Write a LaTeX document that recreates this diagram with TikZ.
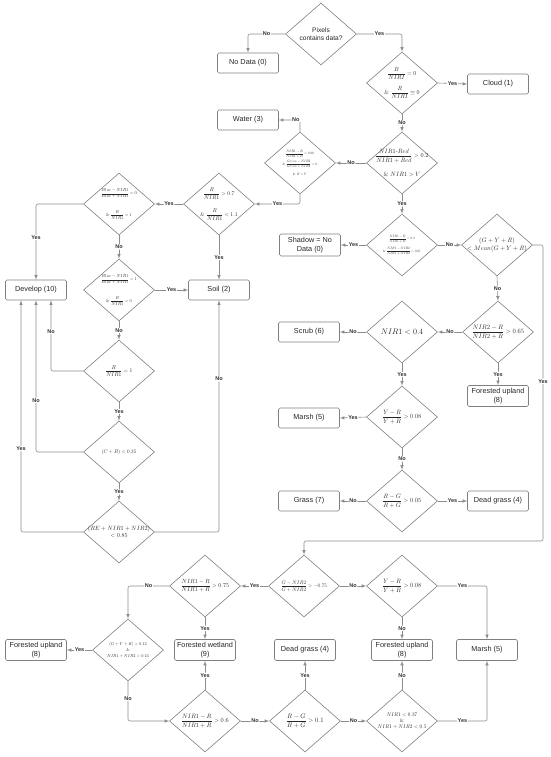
\documentclass[tikz,border=0pt]{standalone}
\usepackage{amsmath}
\usepackage[no-math]{fontspec}
\setsansfont{Liberation Sans}
\usetikzlibrary{shapes.geometric}

\begin{document}
\begin{tikzpicture}
	[
		x=1pt, y=-1pt,
		Arrow/.style={draw=black!45, line width=0.6pt, -latex, rounded corners=2pt},
		Lab/.style={fill=white, inner sep=0.7pt, font=\sffamily\bfseries\fontsize{5.5}{6}\selectfont, text=black!80},
		Txt/.style={align=center, inner sep=0pt, text=black!85, font=\normalsize, transform shape}
	]
	\tikzstyle{Box} = [rectangle, rounded corners=1.5pt, minimum width=61pt, minimum height=20pt, inner sep=1pt, align=center, draw=black!50, line width=0.6pt, text=black!85, font=\sffamily\fontsize{7.3}{9}\selectfont]
	\tikzstyle{Dia} = [diamond, minimum width=71pt, minimum height=62pt, inner sep=0pt, draw=black!50, line width=0.6pt]
	\useasboundingbox (0,0) rectangle (550,757);
	% end classes
	\node [Box] (nodata) at (248,63) {No Data (0)};
	\node [Box] (cloud) at (498,84) {Cloud (1)};
	\node [Box] (water) at (248,120) {Water (3)};
	\node [Box] (develop) at (36,290) {Develop (10)};
	\node [Box] (soil) at (219,290) {Soil (2)};
	\node [Box, minimum height=22pt] (shadow) at (310,245) {Shadow = No\\Data (0)};
	\node [Box] (scrub) at (309,332) {Scrub (6)};
	\node [Box, minimum height=21pt] (fup1) at (498,396) {Forested upland\\(8)};
	\node [Box] (marsh1) at (309,418) {Marsh (5)};
	\node [Box] (grass) at (309,501) {Grass (7)};
	\node [Box] (dead1) at (498,501) {Dead grass (4)};
	\node [Box, minimum height=21pt] (fup2) at (36,650) {Forested upland\\(8)};
	\node [Box, minimum height=21pt] (wet) at (205,650) {Forested wetland\\(9)};
	\node [Box, minimum height=21pt] (dead2) at (305,650) {Dead grass (4)};
	\node [Box, minimum height=21pt] (fup3) at (402,650) {Forested upland\\(8)};
	\node [Box, minimum height=21pt] (marsh2) at (487,650) {Marsh (5)};
	% decisions
	\node [Dia, label={[Txt, font=\sffamily\fontsize{6.6}{8}\selectfont]center:{Pixels\\contains data?}}] (d0) at (321,34) {};
	\node [Dia, label={[Txt, scale=0.6]center:{$\dfrac{B}{NIRI}=0$\\[11pt]\&~$\dfrac{R}{NIRI}\cong 0$}}] (d1) at (402,83) {};
	\node [Dia, label={[Txt, scale=0.35]center:{$\dfrac{NIR1-B}{NIR1+B}<0.60$\\[7pt]\&~$\dfrac{Green-NIR2}{Green+NIR2}>0$\\[14pt]\&~$R>Y$}}] (dw) at (300,163) {};
	\node [Dia, label={[Txt, scale=0.62]center:{$\dfrac{NIR1\text{-}Red}{NIR1+Red}>0.2$\\[14pt]\&~$NIR1>V$}}] (dn) at (402,163) {};
	\node [Dia, label={[Txt, scale=0.56]center:{$\dfrac{R}{NIR1}>0.7$\\[16pt]\&~$\dfrac{R}{NIR1}<1.1$}}] (dr) at (219,204) {};
	\node [Dia, label={[Txt, scale=0.44]center:{$\dfrac{Blue-NIR1}{Blue+NIR1}=0$\\[26pt]\&~$\dfrac{R}{NIR1}=1$}}] (db1) at (119,204) {};
	\node [Dia, label={[Txt, scale=0.44]center:{$\dfrac{Blue-NIR1}{Blue+NIR1}=1$\\[26pt]\&~$\dfrac{R}{NIR1}=0$}}] (db2) at (119,290) {};
	\node [Dia, label={[Txt, scale=0.56]center:{$\dfrac{R}{NIR1}=1$}}] (dr1) at (119,371) {};
	\node [Dia, label={[Txt, scale=0.52]center:{$(C+B)<0.35$}}] (dcb) at (119,452) {};
	\node [Dia, label={[Txt, scale=0.61]center:{$(RE+NIR1+NIR2)$\\$<0.85$}}] (dre) at (119,532) {};
	\node [Dia, label={[Txt, scale=0.34]center:{$\dfrac{NIR1-B}{NIR1+B}<0.2$\\[14pt]\&~$\dfrac{NIR1-NIR2}{NIR1+NIR2}>0.01$}}] (ds) at (402,245) {};
	\node [Dia, label={[Txt, scale=0.64]center:{$(G+Y+R)$\\$<Mean(G+Y+R)$}}] (dm) at (497,245) {};
	\node [Dia, label={[Txt, scale=0.65]center:{$\dfrac{NIR2-R}{NIR2+R}>0.65$}}] (dn2) at (498,332) {};
	\node [Dia, label={[Txt, scale=0.8]center:{$NIR1<0.4$}}] (dn1) at (402,332) {};
	\node [Dia, label={[Txt, scale=0.63]center:{$\dfrac{Y-R}{Y+R}>0.08$}}] (dy1) at (402,417) {};
	\node [Dia, label={[Txt, scale=0.63]center:{$\dfrac{R-G}{R+G}>0.05$}}] (dg1) at (402,501) {};
	\node [Dia, label={[Txt, scale=0.52]center:{$\dfrac{G-NIR2}{G+NIR2}>-0.75$}}] (dg2) at (304,586) {};
	\node [Dia, label={[Txt, scale=0.6]center:{$\dfrac{NIR1-R}{NIR1+R}>0.75$}}] (dv) at (205,586) {};
	\node [Dia, label={[Txt, scale=0.63]center:{$\dfrac{Y-R}{Y+R}>0.08$}}] (dy2) at (402,586) {};
	\node [Dia, label={[Txt, scale=0.43]center:{$(G+Y+R)>0.12$\\[2pt]\&\\[2pt]$NIR1+NIR2>0.45$}}] (df) at (128,650) {};
	\node [Dia, label={[Txt, scale=0.63]center:{$\dfrac{NIR1-R}{NIR1+R}>0.6$}}] (dv2) at (205,721) {};
	\node [Dia, label={[Txt, scale=0.66]center:{$\dfrac{R-G}{R+G}>0.1$}}] (dg3) at (305,721) {};
	\node [Dia, label={[Txt, scale=0.53]center:{$NIR1<0.37$\\\&\\$NIR1+NIR2<0.5$}}] (dl) at (402,721) {};
	\coordinate (c1) at (543,541);
	% connectors
	\draw [Arrow] (d0.west) -| node[Lab, pos=0.25]{No} (nodata.north);
	\draw [Arrow] (d0.east) -| node[Lab, pos=0.25]{Yes} (d1.north);
	\draw [Arrow] (d1.east) -- node[Lab]{Yes} (cloud.west);
	\draw [Arrow] (d1.south) -- node[Lab]{No} (dn.north);
	\draw [Arrow] (dn.west) -- node[Lab]{No} (dw.east);
	\draw [Arrow] (dw.north) |- node[Lab, pos=0.6]{No} (water.east);
	\draw [Arrow] (dw.south) |- node[Lab, pos=0.75]{Yes} (dr.east);
	\draw [Arrow] (dr.west) -- node[Lab]{Yes} (db1.east);
	\draw [Arrow] (db1.west) -| node[Lab, pos=0.72]{Yes} (develop.north);
	\draw [Arrow] (db1.south) -- node[Lab]{No} (db2.north);
	\draw [Arrow] (db2.east) -- node[Lab]{Yes} (soil.west);
	\draw [Arrow] (dr.south) -- node[Lab]{Yes} (soil.north);
	\draw [Arrow] (db2.south) -- node[Lab]{No} (dr1.north);
	\draw [Arrow] (dr1.west) -| node[Lab, pos=0.78]{No} ([xshift=15pt]develop.south);
	\draw [Arrow] (dr1.south) -- node[Lab]{Yes} (dcb.north);
	\draw [Arrow] (dcb.west) -| node[Lab, pos=0.67]{No} (develop.south);
	\draw [Arrow] (dcb.south) -- node[Lab]{Yes} (dre.north);
	\draw [Arrow] (dre.west) -| node[Lab, pos=0.68]{Yes} ([xshift=-15pt]develop.south);
	\draw [Arrow] (dre.east) -| node[Lab, pos=0.83]{No} (soil.south);
	\draw [Arrow] (dn.south) -- node[Lab]{Yes} (ds.north);
	\draw [Arrow] (ds.west) -- node[Lab]{Yes} (shadow.east);
	\draw [Arrow] (ds.east) -- node[Lab]{No} (dm.west);
	\draw [Arrow] (dm.south) -- node[Lab]{No} (dn2.north);
	\draw [Arrow] (dm.east) -| node[Lab, pos=0.73]{Yes} (c1) -| (dg2.north);
	\draw [Arrow] (dn2.west) -- node[Lab]{No} (dn1.east);
	\draw [Arrow] (dn1.west) -- node[Lab]{No} (scrub.east);
	\draw [Arrow] (dn2.south) -- node[Lab]{Yes} (fup1.north);
	\draw [Arrow] (dn1.south) -- node[Lab]{Yes} (dy1.north);
	\draw [Arrow] (dy1.west) -- node[Lab]{Yes} (marsh1.east);
	\draw [Arrow] (dy1.south) -- node[Lab]{No} (dg1.north);
	\draw [Arrow] (dg1.west) -- node[Lab]{No} (grass.east);
	\draw [Arrow] (dg1.east) -- node[Lab]{Yes} (dead1.west);
	\draw [Arrow] (dg2.west) -- node[Lab]{Yes} (dv.east);
	\draw [Arrow] (dg2.east) -- node[Lab]{No} (dy2.west);
	\draw [Arrow] (dy2.east) -| node[Lab, pos=0.25]{Yes} (marsh2.north);
	\draw [Arrow] (dy2.south) -- node[Lab]{No} (fup3.north);
	\draw [Arrow] (dv.west) -| node[Lab, pos=0.25]{No} (df.north);
	\draw [Arrow] (dv.south) -- node[Lab]{Yes} (wet.north);
	\draw [Arrow] (df.west) -- node[Lab]{Yes} (fup2.east);
	\draw [Arrow] (df.south) |- node[Lab, pos=0.22]{No} (dv2.west);
	\draw [Arrow] (dv2.north) -- node[Lab]{Yes} (wet.south);
	\draw [Arrow] (dv2.east) -- node[Lab]{No} (dg3.west);
	\draw [Arrow] (dg3.north) -- node[Lab]{Yes} (dead2.south);
	\draw [Arrow] (dg3.east) -- node[Lab]{No} (dl.west);
	\draw [Arrow] (dl.north) -- node[Lab]{No} (fup3.south);
	\draw [Arrow] (dl.east) -| node[Lab, pos=0.25]{Yes} (marsh2.south);
\end{tikzpicture}
\end{document}
